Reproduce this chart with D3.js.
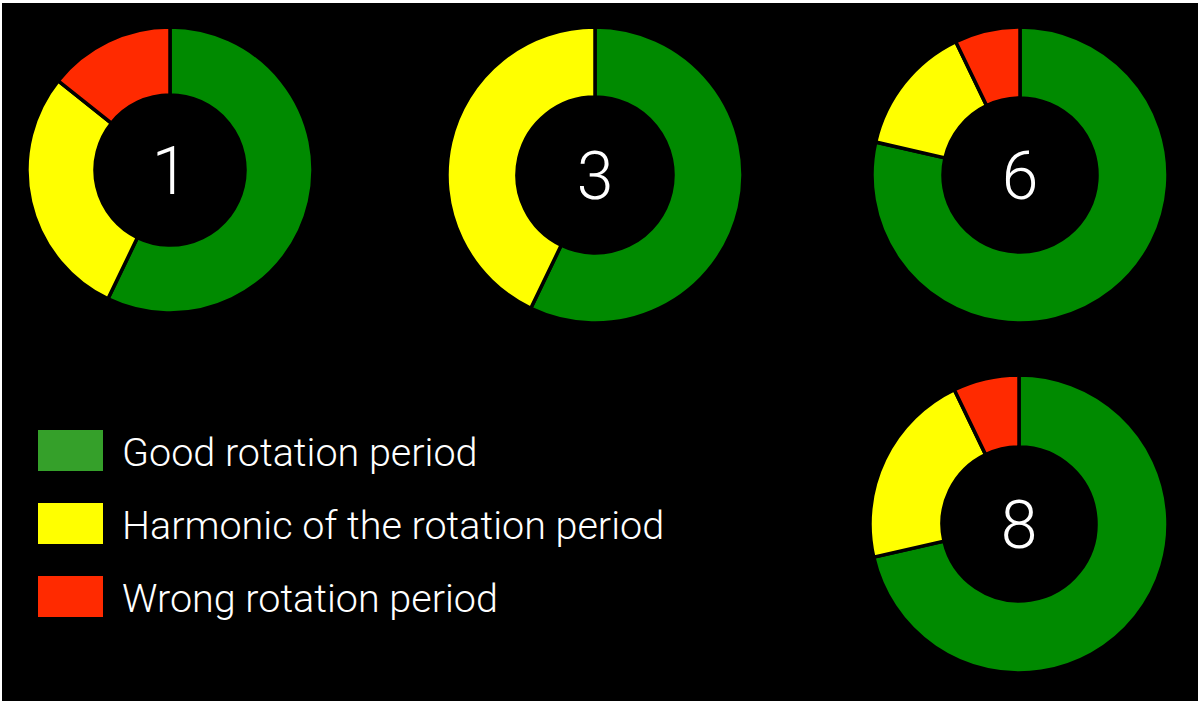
<!DOCTYPE html>
<html lang="en">
<head>
  <meta charset="UTF-8" />
  <script src="https://d3js.org/d3.v7.min.js"></script>
  <title>Rotation periods</title>
  <style>
    body { margin: 0; background: #fff; }
  </style>
</head>
<body>
<script type="text/javascript">
	var width = 1200; var height = 703;

	// data: fraction of stars in each class, per donut (label in the middle)
	var categories = ["Good rotation period", "Harmonic of the rotation period", "Wrong rotation period"];
	var labels = ["1", "3", "6", "8"];
	var good     = [4, 4, 11, 10];
	var harmonic = [2, 3, 2, 3];
	var wrong    = [1, 0, 1, 1];

	var colors = ["#008a00", "#ffff00", "#ff2a00"];
	var legendColors = ["#35a02a", "#ffff00", "#ff2a00"];

	// where each donut sits
	var cx = [170, 595, 1020, 1019];
	var cy = [170, 175, 175, 524];
	var ro = [143, 148, 148, 149];
	var ri = [75, 78, 77, 77];

	var svgctrl = d3.select("body").append("svg").attr("width", width).attr("height", height);
	svgctrl.append("rect").attr("x", 0).attr("y", 0).attr("width", width).attr("height", height).attr("fill", "#fff");
	svgctrl.append("rect").attr("x", 2).attr("y", 3).attr("width", width - 4).attr("height", height - 5).attr("fill", "#000");

	var pie = d3.pie().sort(null).value(function(d){return d;});
	var color = d3.scaleOrdinal().domain(d3.range(3)).range(colors);

	labels.forEach(function(lab, i)
		{
			var vals = [good[i], harmonic[i], wrong[i]];
			var arc = d3.arc().innerRadius(ri[i]).outerRadius(ro[i]);
			var g = svgctrl.append("g").attr("transform", "translate(" + cx[i] + "," + cy[i] + ")");
			g.selectAll("path").data(pie(vals).filter(function(d){return d.value > 0;})).enter().append("path")
				.attr("d", arc)
				.attr("fill", function(d){return color(d.index);})
				.attr("stroke", "#000").attr("stroke-width", 3.5);
			g.append("text").text(lab)
				.attr("text-anchor", "middle").attr("dy", "0.36em")
				.attr("fill", "#fff").attr("font-family", "Roboto, 'Liberation Sans', sans-serif")
				.attr("font-weight", 300).attr("font-size", 66);
		}
	);

	// legend
	var legend = svgctrl.append("g");
	var ly = d3.scalePoint().domain(categories).range([452, 598]);
	categories.forEach(function(c, i)
		{
			legend.append("rect").attr("x", 38).attr("y", ly(c) - 22).attr("width", 65).attr("height", 41).attr("fill", legendColors[i]);
			legend.append("text").text(c).attr("x", 122).attr("y", ly(c)).attr("dy", "0.36em")
				.attr("fill", "#fff").attr("font-family", "Roboto, 'Liberation Sans', sans-serif")
				.attr("font-weight", 300).attr("font-size", 39.5);
		}
	);
</script>
</body>
</html>
